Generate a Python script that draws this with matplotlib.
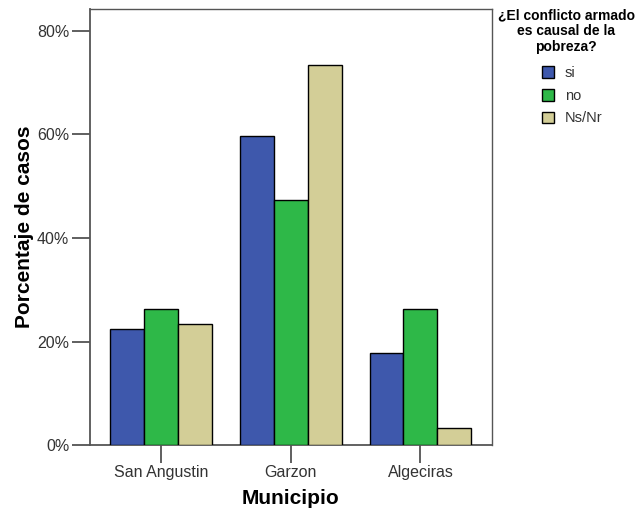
import matplotlib
matplotlib.use("Agg")
import matplotlib.pyplot as plt
import numpy as np
from matplotlib.patches import Patch

categories = ["San Angustin", "Garzon", "Algeciras"]
series_names = ["si", "no", "Ns/Nr"]
si_vals = [22.4, 59.6, 17.9]
no_vals = [26.3, 47.3, 26.4]
ns_vals = [23.4, 73.4, 3.3]
yticks = [0, 20, 40, 60, 80]
ytick_labels = ["0%", "20%", "40%", "60%", "80%"]
colors = ["#3e58ac", "#2eb848", "#d3ce97"]

plt.rcParams['font.family'] = ['Liberation Sans', 'DejaVu Sans']

fig = plt.figure(figsize=(6.38, 5.09), dpi=100)
ax = fig.add_axes([90/638, 1-445.3/509, 401.7/638, 436.3/509])

x = np.arange(len(categories))
w = 0.262
for i, vals in enumerate([si_vals, no_vals, ns_vals]):
    ax.bar(x + (i-1)*w, vals, width=w, color=colors[i], edgecolor="black",
           linewidth=1.0, label=series_names[i], zorder=3)

ax.set_xlim(-0.55, 2.55)
ax.set_ylim(0, 84.2)
ax.set_yticks(yticks)
ax.set_yticklabels(ytick_labels)
ax.set_xticks(x)
ax.set_xticklabels(categories)
ax.tick_params(axis='both', direction='out', length=13, width=1.2, color='#444444',
               labelsize=11.5, labelcolor='#333333', pad=2)
ax.tick_params(axis='x', pad=1)
for s in ax.spines.values():
    s.set_color('#555555')
    s.set_linewidth(1.0)
ax.spines['left'].set_linewidth(1.3)
ax.spines['bottom'].set_linewidth(1.3)

ax.set_ylabel("Porcentaje de casos", fontsize=15, fontweight='bold', va='center')
ax.yaxis.set_label_coords((25-90)/401.7, 0.5)
ax.set_xlabel("Municipio", fontsize=15, fontweight='bold', labelpad=7)

fig.text(566/638, 1-8/509, "¿El conflicto armado\nes causal de la\npobreza?",
         ha='center', va='top', fontsize=10, fontweight='bold', linespacing=1.2)
handles = [Patch(facecolor=colors[i], edgecolor='black', linewidth=1.0) for i in range(3)]
fig.legend(handles, series_names, loc='upper left', bbox_to_anchor=(542/638, 1-66/509),
           frameon=False, fontsize=10.5, handlelength=0.85, handleheight=0.85,
           handletextpad=0.7, labelspacing=0.6, borderpad=0, borderaxespad=0,
           labelcolor='#333333')

fig.savefig("out.png", dpi=100)
